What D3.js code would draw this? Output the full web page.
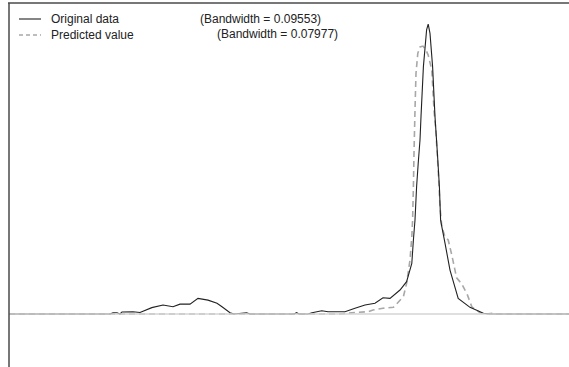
<!DOCTYPE html>
<html>
<head>
<meta charset="utf-8">
<script src="https://cdn.jsdelivr.net/npm/d3@7"></script>
<style>
  body { margin: 0; background: #fff; }
  text { font-family: "Liberation Sans", Arial, sans-serif; font-size: 12px; fill: #222; }
</style>
</head>
<body>
<svg id="chart" width="569" height="367"></svg>
<script>
// density estimates
var origX = [0, 2.525, 2.6, 2.7, 2.775, 2.825, 3.1, 3.275, 3.57, 3.85, 4.1, 4.275, 4.525, 4.725, 4.975, 5.2, 5.325, 5.525, 5.625, 5.94, 6.025, 7.125, 7.19, 7.25, 7.475, 7.575, 7.82, 7.975, 8.4, 8.65, 8.9, 9.15, 9.35, 9.525, 9.775, 9.94, 10.07, 10.11, 10.15, 10.19, 10.23, 10.275, 10.3, 10.36, 10.44, 10.48, 10.525, 10.59, 10.65, 10.71, 10.76, 10.79, 10.82, 10.9, 11.025, 11.23, 11.525, 11.86, 12.025, 14];
var origY = [0, 0, 0.0045, 0.0045, 0, 0.007, 0.008, 0.005, 0.022, 0.031, 0.025, 0.034, 0.034, 0.054, 0.048, 0.037, 0.025, 0.0045, 0, 0.0045, 0, 0, 0.0045, 0, 0, 0.0045, 0.011, 0.008, 0.008, 0.02, 0.031, 0.037, 0.056, 0.054, 0.083, 0.112, 0.175, 0.256, 0.325, 0.44, 0.521, 0.602, 0.683, 0.856, 0.983, 1.003, 0.971, 0.856, 0.683, 0.556, 0.44, 0.325, 0.302, 0.245, 0.152, 0.054, 0.023, 0.0025, 0, 0];

var predX = [0, 8.275, 8.65, 8.975, 9.1, 9.35, 9.61, 9.86, 9.94, 10.025, 10.07, 10.09, 10.11, 10.125, 10.15, 10.175, 10.22, 10.275, 10.35, 10.425, 10.48, 10.57, 10.625, 10.675, 10.73, 10.775, 10.82, 10.9, 10.98, 11.07, 11.19, 11.32, 11.46, 11.57, 11.775, 11.925, 12.1, 12.2, 14];
var predY = [0, 0, 0.005, 0.008, 0.014, 0.02, 0.023, 0.06, 0.106, 0.187, 0.267, 0.325, 0.44, 0.556, 0.706, 0.833, 0.902, 0.924, 0.927, 0.913, 0.896, 0.844, 0.706, 0.626, 0.498, 0.371, 0.302, 0.267, 0.256, 0.204, 0.125, 0.104, 0.066, 0.025, 0.0045, 0, 0.003, 0, 0];

var legendLabels = ["Original data", "Predicted value"];
var bandwidths = ["(Bandwidth = 0.09553)", "(Bandwidth = 0.07977)"];

var svg = d3.select("#chart");

var x = d3.scaleLinear().domain([0, 14]).range([9, 569]);
var y = d3.scaleLinear().domain([0, 1]).range([314, 25]);

var line = d3.line()
  .x(function(d) { return x(d[0]); })
  .y(function(d) { return y(d[1]); });

var orig = d3.zip(origX, origY);
var pred = d3.zip(predX, predY);

// predicted curve (dashed grey)
svg.append("path")
  .attr("d", line(pred))
  .attr("fill", "none")
  .attr("stroke", "#a8a8a8")
  .attr("stroke-width", 1.6)
  .attr("stroke-dasharray", "6,4");

// original curve
svg.append("path")
  .attr("d", line(orig))
  .attr("fill", "none")
  .attr("stroke", "#222")
  .attr("stroke-width", 1.1);

// zero line on top
svg.append("line")
  .attr("x1", x(0)).attr("x2", x(14))
  .attr("y1", y(0)).attr("y2", y(0))
  .attr("stroke", "#d4d4d4")
  .attr("stroke-width", 1.6);

// frame: top and left
svg.append("line")
  .attr("x1", 8).attr("x2", 569).attr("y1", 3).attr("y2", 3)
  .attr("stroke", "#4a4a4a").attr("stroke-width", 1.5);
svg.append("line")
  .attr("x1", 9).attr("x2", 9).attr("y1", 3).attr("y2", 367)
  .attr("stroke", "#4a4a4a").attr("stroke-width", 1.5);

// legend
var legend = svg.selectAll(".legend")
  .data(legendLabels)
  .enter().append("g")
  .attr("class", "legend")
  .attr("transform", function(d, i) { return "translate(0," + (19 + i * 16) + ")"; });

legend.append("line")
  .attr("x1", 19).attr("x2", 41)
  .attr("y1", 0).attr("y2", 0)
  .attr("stroke", function(d, i) { return i == 0 ? "#222" : "#a8a8a8"; })
  .attr("stroke-width", function(d, i) { return i == 0 ? 1.1 : 1.3; })
  .attr("stroke-dasharray", function(d, i) { return i == 0 ? null : "4,3"; });

legend.append("text")
  .attr("x", 51)
  .attr("y", 4)
  .text(function(d) { return d; });

svg.selectAll(".bw")
  .data(bandwidths)
  .enter().append("text")
  .attr("class", "bw")
  .attr("x", function(d, i) { return i == 0 ? 200 : 217; })
  .attr("y", function(d, i) { return 23 + i * 15; })
  .text(function(d) { return d; });
</script>
</body>
</html>
